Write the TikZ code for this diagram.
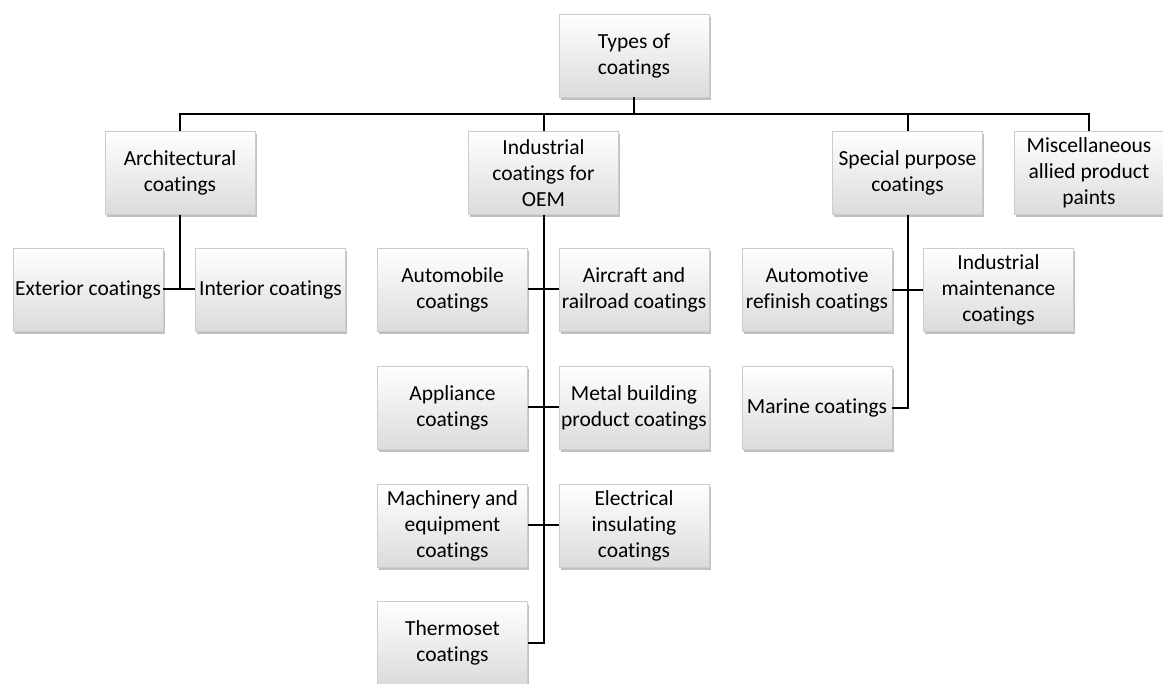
\documentclass[tikz,border=0pt]{standalone}
\usepackage{fontspec}
\setmainfont{Carlito}[Ligatures={NoCommon}]
\usetikzlibrary{shadows}
\definecolor{boxtop}{gray}{1.0}
\definecolor{boxbot}{gray}{0.86}
\definecolor{boxline}{gray}{0.80}
\tikzset{
  cbox/.style={rectangle,draw=boxline,line width=0.4pt,top color=boxtop,bottom color=boxbot,
    minimum width=150pt,minimum height=83pt,inner sep=1pt,align=center,
    font=\fontsize{21.5pt}{26pt}\selectfont,
    drop shadow={shadow xshift=1.5pt,shadow yshift=-3pt,opacity=0.45,fill=black!55}},
  conn/.style={draw=black,line width=2pt},
}
\begin{document}
\begin{tikzpicture}[x=1pt,y=-1pt]
  \useasboundingbox (0,0) rectangle (1163,684);
  % top level
  \node[cbox] (root) at (634,55.5) {Types of\\coatings};
  \coordinate (bus) at (634,114);
  % second level
  \node[cbox] (arch) at (180,173) {Architectural\\coatings};
  \node[cbox] (oem) at (543.5,173) {Industrial\\coatings for\\OEM};
  \node[cbox] (spec) at (907.5,173) {Special purpose\\coatings};
  \node[cbox] (misc) at (1089,173) {Miscellaneous\\allied product\\paints};
  % architectural
  \node[cbox] (ext) at (88,289.5) {Exterior coatings};
  \node[cbox] (int) at (270.5,289.5) {Interior coatings};
  % industrial OEM
  \node[cbox] (auto) at (452.5,289.5) {Automobile\\coatings};
  \node[cbox] (air) at (634,289.5) {Aircraft and\\railroad coatings};
  \node[cbox] (appl) at (452.5,407.5) {Appliance\\coatings};
  \node[cbox] (metal) at (634,407.5) {Metal building\\product coatings};
  \node[cbox] (mach) at (452.5,525.5) {Machinery and\\equipment\\coatings};
  \node[cbox] (elec) at (634,525.5) {Electrical\\insulating\\coatings};
  \node[cbox] (thermo) at (452.5,643) {Thermoset\\coatings};
  % special purpose
  \node[cbox] (refin) at (817,290) {Automotive\\refinish coatings};
  \node[cbox] (maint) at (998.5,290) {Industrial\\maintenance\\coatings};
  \node[cbox] (marine) at (817,408) {Marine coatings};
  % connectors
  \draw[conn] (root.south) -- (bus);
  \draw[conn] (arch.north) -- (arch.north |- bus) -- (misc.north |- bus) -- (misc.north);
  \draw[conn] (oem.north) -- (oem.north |- bus);
  \draw[conn] (spec.north) -- (spec.north |- bus);
  \draw[conn] (arch.south) -- (arch.south |- ext.east);
  \draw[conn] (ext.east) -- (int.west);
  \draw[conn] (oem.south) -- (oem.south |- thermo.east) -- (thermo.east);
  \draw[conn] (auto.east) -- (air.west);
  \draw[conn] (appl.east) -- (metal.west);
  \draw[conn] (mach.east) -- (elec.west);
  \draw[conn] (spec.south) -- (spec.south |- marine.east) -- (marine.east);
  \draw[conn] (refin.east) -- (maint.west);
\end{tikzpicture}
\end{document}
